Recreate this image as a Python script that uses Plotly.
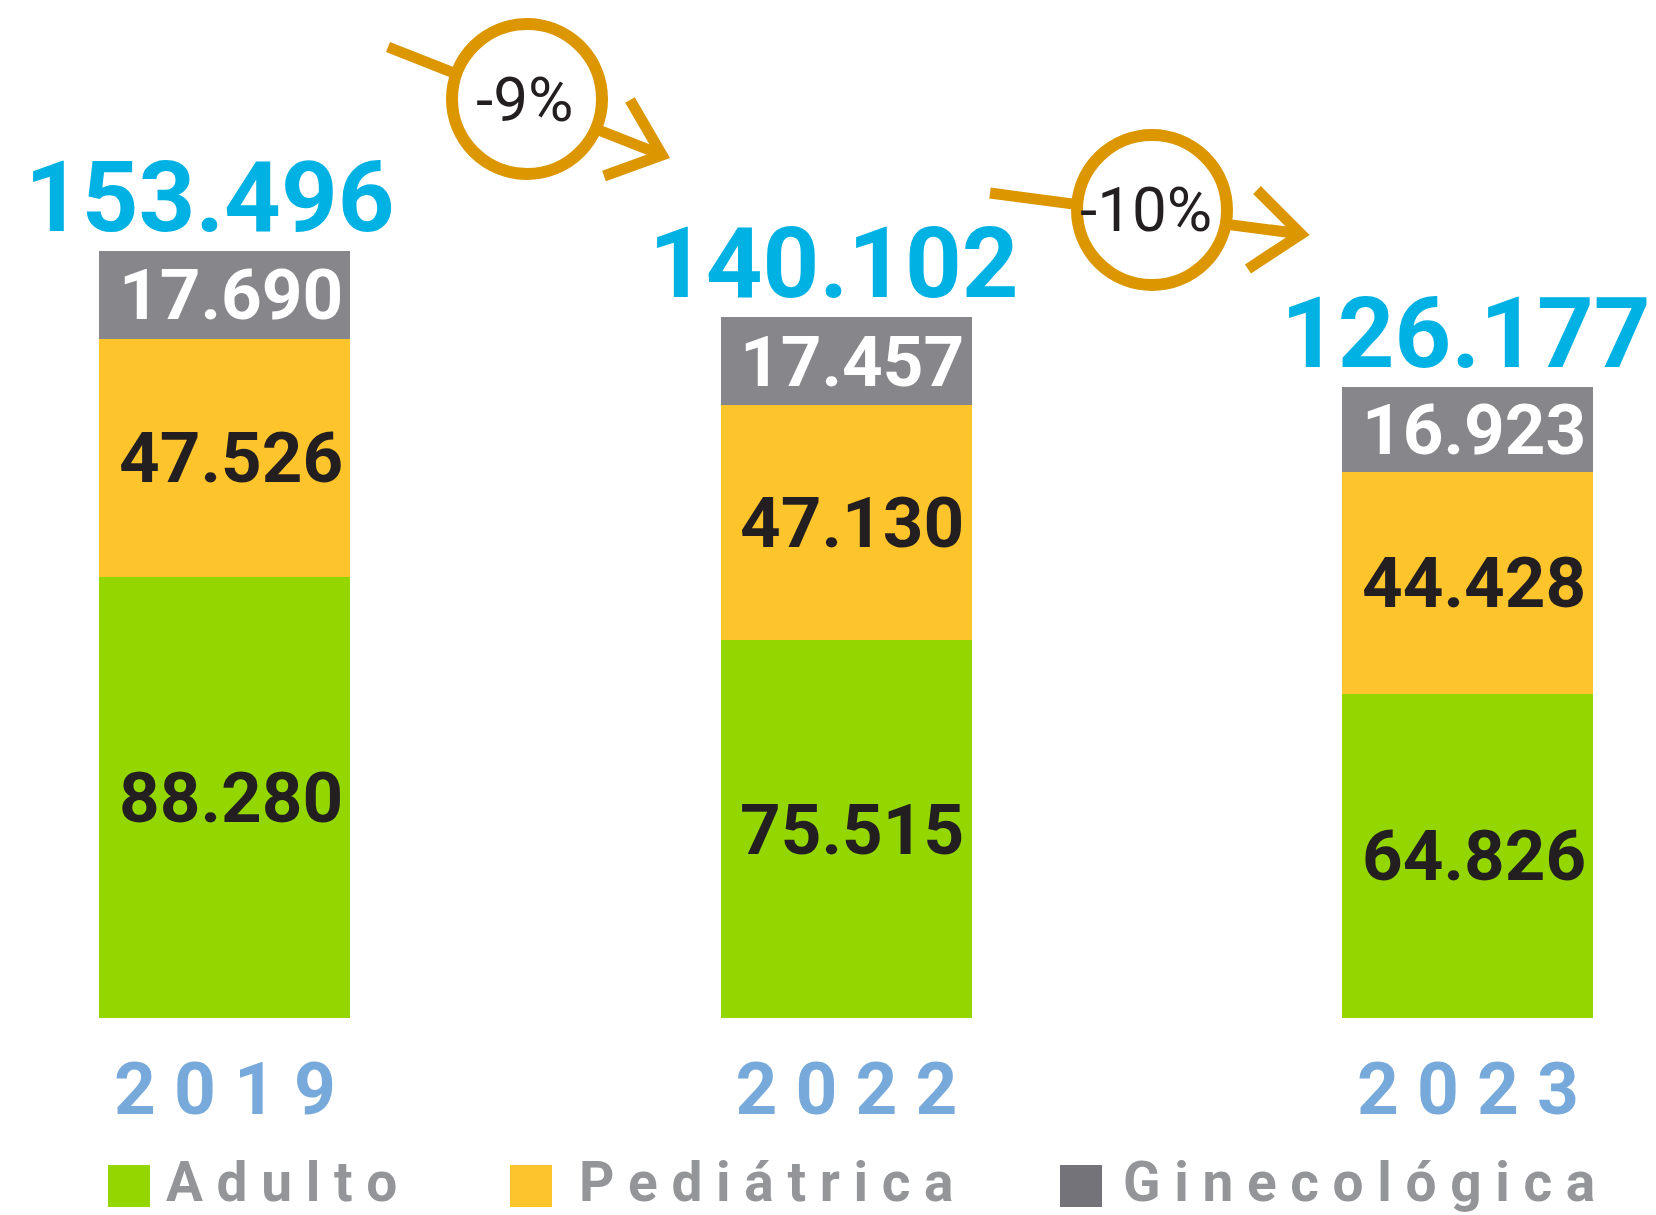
import plotly.graph_objects as go

# ---------------- data ----------------
years = ["2019", "2022", "2023"]
series_names = ["Adulto", "Pediátrica", "Ginecológica"]
adulto = [88280, 75515, 64826]
pediatrica = [47526, 47130, 44428]
ginecologica = [17690, 17457, 16923]
totals = [153496, 140102, 126177]
changes = ["-9%", "-10%"]

# ---------------- styling ----------------
OFF = 8                      # default body margin of the html page
W, H = 1656 - OFF, 1215 - OFF
M_L, M_R, M_T, M_B = 0, 0, 210, 197
PLOT_H = H - M_T - M_B

def px(xp):                  # page pixel -> paper x
    return (xp - OFF - M_L) / (W - M_L - M_R)

def py(yp):                  # page pixel -> paper y
    return (H - M_B - (yp - OFF)) / PLOT_H

def fmt(v):
    return f"{v:,}".replace(",", ".")

def spaced(s, sep="\u00a0"):
    return sep.join(s)

bar_colors = ["#94D600", "#FDC42B", "#87868B"]
legend_colors = ["#94D600", "#FDC42B", "#747379"]
label_colors = ["#231F20", "#231F20", "#FFFFFF"]
ORANGE = "#DB9600"
CYAN = "#00B2E3"
YEAR_C = "#77AADB"
LEG_TXT = "#939598"
FONT = "Roboto, Liberation Sans, sans-serif"

def font(size, color, bold=True):
    return dict(family=FONT, size=size, color=color,
                weight="bold" if bold else "normal")

fig = go.Figure()
series = [adulto, pediatrica, ginecologica]
for name, vals, c in zip(series_names, series, bar_colors):
    fig.add_trace(go.Bar(
        x=years, y=vals, name=name,
        marker=dict(color=c, line=dict(width=0)),
        width=0.404, hoverinfo="skip",
    ))

annotations = []
shapes = []

# segment labels
for i, yr in enumerate(years):
    base = 0
    for j, vals in enumerate(series):
        v = vals[i]
        annotations.append(dict(
            x=i, y=base + v / 2, xref="x", yref="y", text=fmt(v),
            showarrow=False, xshift=6,
            font=font(71, label_colors[j]),
        ))
        base += v

# totals
total_xshift = [-15, -12, -2]
for i, yr in enumerate(years):
    annotations.append(dict(
        x=i, y=totals[i], xref="x", yref="y", text=fmt(totals[i]),
        showarrow=False, yanchor="bottom", yshift=-6, xshift=total_xshift[i],
        font=font(99, CYAN),
    ))

# change arrows + circles (page pixel positions)
arrow_specs = [
    # start, tip, arm1, arm2, circle center, text center
    ((388, 47), (662, 155), (630, 100), (604, 176), (527, 99), (524, 99)),
    ((990, 193), (1301, 234), (1257, 190), (1248, 269), (1152, 210), (1146, 209)),
]
R = 75
for k, (s, t, a1, a2, cc, tc) in enumerate(arrow_specs):
    shapes.append(dict(type="line", xref="paper", yref="paper",
                       x0=px(s[0]), y0=py(s[1]), x1=px(t[0]), y1=py(t[1]),
                       line=dict(color=ORANGE, width=11)))
    shapes.append(dict(type="path", xref="paper", yref="paper",
                       path=f"M {px(a1[0])},{py(a1[1])} L {px(t[0])},{py(t[1])} L {px(a2[0])},{py(a2[1])}",
                       line=dict(color=ORANGE, width=11)))
    shapes.append(dict(type="circle", xref="paper", yref="paper",
                       x0=px(cc[0] - R), x1=px(cc[0] + R),
                       y0=py(cc[1] + R), y1=py(cc[1] - R),
                       fillcolor="white", line=dict(color=ORANGE, width=12)))
    annotations.append(dict(
        x=px(tc[0]), y=py(tc[1]), xref="paper", yref="paper", text=changes[k],
        showarrow=False, xanchor="center", yanchor="middle",
        font=font(62, "#231F20", bold=False),
    ))

# custom legend
leg_sw_x = [108, 510, 1060]
leg_txt_x = [164, 577, 1121]
for k, name in enumerate(series_names):
    shapes.append(dict(type="rect", xref="paper", yref="paper",
                       x0=px(leg_sw_x[k]), x1=px(leg_sw_x[k] + 42),
                       y0=py(1207), y1=py(1165),
                       fillcolor=legend_colors[k], line=dict(width=0)))
    annotations.append(dict(
        x=px(leg_txt_x[k]), y=py(1182), xref="paper", yref="paper",
        text=spaced(name), showarrow=False, xanchor="left", yanchor="middle",
        font=font(55, LEG_TXT),
    ))

fig.update_layout(
    width=W, height=H,
    margin=dict(l=M_L, r=M_R, t=M_T, b=M_B, pad=0),
    paper_bgcolor="white", plot_bgcolor="white",
    barmode="stack", bargap=0, showlegend=False,
    xaxis=dict(type="category", range=[-0.349, -0.349 + W / 621.5],
               tickvals=years, ticktext=[spaced(y) for y in years],
               tickfont=font(73, YEAR_C),
               ticks="", showgrid=False, zeroline=False, showline=False,
               ticklabelstandoff=22),
    yaxis=dict(range=[0, 160000], visible=False, showgrid=False, zeroline=False),
    annotations=annotations, shapes=shapes,
)

fig.write_html("out.html")
